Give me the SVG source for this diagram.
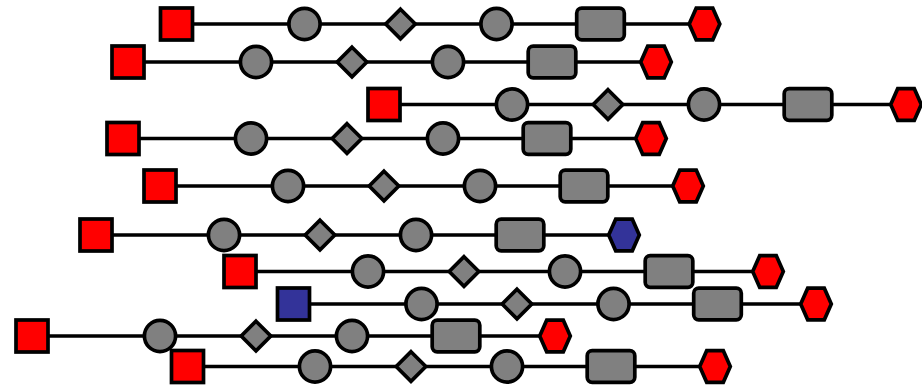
<svg xmlns="http://www.w3.org/2000/svg" xmlns:xlink="http://www.w3.org/1999/xlink" width="922" height="387" viewBox="0 0 922 387">
<style>
.e{stroke:#000;stroke-width:3.6;fill:none}
.s{stroke:#000;stroke-width:3.7}
.r{fill:#ff0000}
.g{fill:#808080}
.b{fill:#333399}
</style>
<defs>
<rect id="sq" x="-16" y="-16" width="32" height="32"/>
<circle id="ci" r="15.6"/>
<path id="di" d="M0,-14.8 L14.8,0 L0,14.8 L-14.8,0Z"/>
<rect id="rr" x="-23.8" y="-15.8" width="47.6" height="31.6" rx="5"/>
<polygon id="hx" points="-15.3,0 -8.3,-15.8 8.3,-15.8 15.3,0 8.3,15.8 -8.3,15.8"/>
</defs>
<rect width="922" height="387" fill="#fff"/>
<g id="connectors">
<path class="e" d="M176.5,24H304.5M304.5,24H400.5M400.5,24H496.5M496.5,24H600.5M600.5,24H704.5"/>
<path class="e" d="M128,62H256M256,62H352M352,62H448M448,62H552M552,62H656"/>
<path class="e" d="M384,104.5H512M512,104.5H608M608,104.5H704M704,104.5H808M808,104.5H906"/>
<path class="e" d="M123,138.5H251M251,138.5H347M347,138.5H443M443,138.5H547M547,138.5H651"/>
<path class="e" d="M160,186H288M288,186H384M384,186H480M480,186H584M584,186H688"/>
<path class="e" d="M96,235H224M224,235H320M320,235H416M416,235H520M520,235H624"/>
<path class="e" d="M240,271.5H368M368,271.5H464M464,271.5H565M565,271.5H669M669,271.5H768"/>
<path class="e" d="M293.5,304H421.5M421.5,304H517M517,304H613.5M613.5,304H717.5M717.5,304H816"/>
<path class="e" d="M32,336H160M160,336H256M256,336H352M352,336H456M456,336H555"/>
<path class="e" d="M187.5,366.5H315M315,366.5H411M411,366.5H507M507,366.5H611M611,366.5H715"/>
</g>
<g id="r1a"><use href="#sq" class="s r" x="176.5" y="24"/></g>
<g id="r1b"><use href="#ci" class="s g" x="304.5" y="24"/></g>
<g id="r1c"><use href="#di" class="s g" x="400.5" y="24"/></g>
<g id="r1d"><use href="#ci" class="s g" x="496.5" y="24"/></g>
<g id="r1e"><use href="#rr" class="s g" x="600.5" y="24"/></g>
<g id="r1f"><use href="#hx" class="s r" x="704.5" y="24"/></g>
<g id="r2a"><use href="#sq" class="s r" x="128" y="62"/></g>
<g id="r2b"><use href="#ci" class="s g" x="256" y="62"/></g>
<g id="r2c"><use href="#di" class="s g" x="352" y="62"/></g>
<g id="r2d"><use href="#ci" class="s g" x="448" y="62"/></g>
<g id="r2e"><use href="#rr" class="s g" x="552" y="62"/></g>
<g id="r2f"><use href="#hx" class="s r" x="656" y="62"/></g>
<g id="r3a"><use href="#sq" class="s r" x="384" y="104.5"/></g>
<g id="r3b"><use href="#ci" class="s g" x="512" y="104.5"/></g>
<g id="r3c"><use href="#di" class="s g" x="608" y="104.5"/></g>
<g id="r3d"><use href="#ci" class="s g" x="704" y="104.5"/></g>
<g id="r3e"><use href="#rr" class="s g" x="808" y="104.5"/></g>
<g id="r3f"><use href="#hx" class="s r" x="906" y="104.5"/></g>
<g id="r4a"><use href="#sq" class="s r" x="123" y="138.5"/></g>
<g id="r4b"><use href="#ci" class="s g" x="251" y="138.5"/></g>
<g id="r4c"><use href="#di" class="s g" x="347" y="138.5"/></g>
<g id="r4d"><use href="#ci" class="s g" x="443" y="138.5"/></g>
<g id="r4e"><use href="#rr" class="s g" x="547" y="138.5"/></g>
<g id="r4f"><use href="#hx" class="s r" x="651" y="138.5"/></g>
<g id="r5a"><use href="#sq" class="s r" x="160" y="186"/></g>
<g id="r5b"><use href="#ci" class="s g" x="288" y="186"/></g>
<g id="r5c"><use href="#di" class="s g" x="384" y="186"/></g>
<g id="r5d"><use href="#ci" class="s g" x="480" y="186"/></g>
<g id="r5e"><use href="#rr" class="s g" x="584" y="186"/></g>
<g id="r5f"><use href="#hx" class="s r" x="688" y="186"/></g>
<g id="r6a"><use href="#sq" class="s r" x="96" y="235"/></g>
<g id="r6b"><use href="#ci" class="s g" x="224" y="235"/></g>
<g id="r6c"><use href="#di" class="s g" x="320" y="235"/></g>
<g id="r6d"><use href="#ci" class="s g" x="416" y="235"/></g>
<g id="r6e"><use href="#rr" class="s g" x="520" y="235"/></g>
<g id="r6f"><use href="#hx" class="s b" x="624" y="235"/></g>
<g id="r7a"><use href="#sq" class="s r" x="240" y="271.5"/></g>
<g id="r7b"><use href="#ci" class="s g" x="368" y="271.5"/></g>
<g id="r7c"><use href="#di" class="s g" x="464" y="271.5"/></g>
<g id="r7d"><use href="#ci" class="s g" x="565" y="271.5"/></g>
<g id="r7e"><use href="#rr" class="s g" x="669" y="271.5"/></g>
<g id="r7f"><use href="#hx" class="s r" x="768" y="271.5"/></g>
<g id="r8a"><use href="#sq" class="s b" x="293.5" y="304"/></g>
<g id="r8b"><use href="#ci" class="s g" x="421.5" y="304"/></g>
<g id="r8c"><use href="#di" class="s g" x="517" y="304"/></g>
<g id="r8d"><use href="#ci" class="s g" x="613.5" y="304"/></g>
<g id="r8e"><use href="#rr" class="s g" x="717.5" y="304"/></g>
<g id="r8f"><use href="#hx" class="s r" x="816" y="304"/></g>
<g id="r9a"><use href="#sq" class="s r" x="32" y="336"/></g>
<g id="r9b"><use href="#ci" class="s g" x="160" y="336"/></g>
<g id="r9c"><use href="#di" class="s g" x="256" y="336"/></g>
<g id="r9d"><use href="#ci" class="s g" x="352" y="336"/></g>
<g id="r9e"><use href="#rr" class="s g" x="456" y="336"/></g>
<g id="r9f"><use href="#hx" class="s r" x="555" y="336"/></g>
<g id="r10a"><use href="#sq" class="s r" x="187.5" y="366.5"/></g>
<g id="r10b"><use href="#ci" class="s g" x="315" y="366.5"/></g>
<g id="r10c"><use href="#di" class="s g" x="411" y="366.5"/></g>
<g id="r10d"><use href="#ci" class="s g" x="507" y="366.5"/></g>
<g id="r10e"><use href="#rr" class="s g" x="611" y="366.5"/></g>
<g id="r10f"><use href="#hx" class="s r" x="715" y="366.5"/></g>
</svg>
